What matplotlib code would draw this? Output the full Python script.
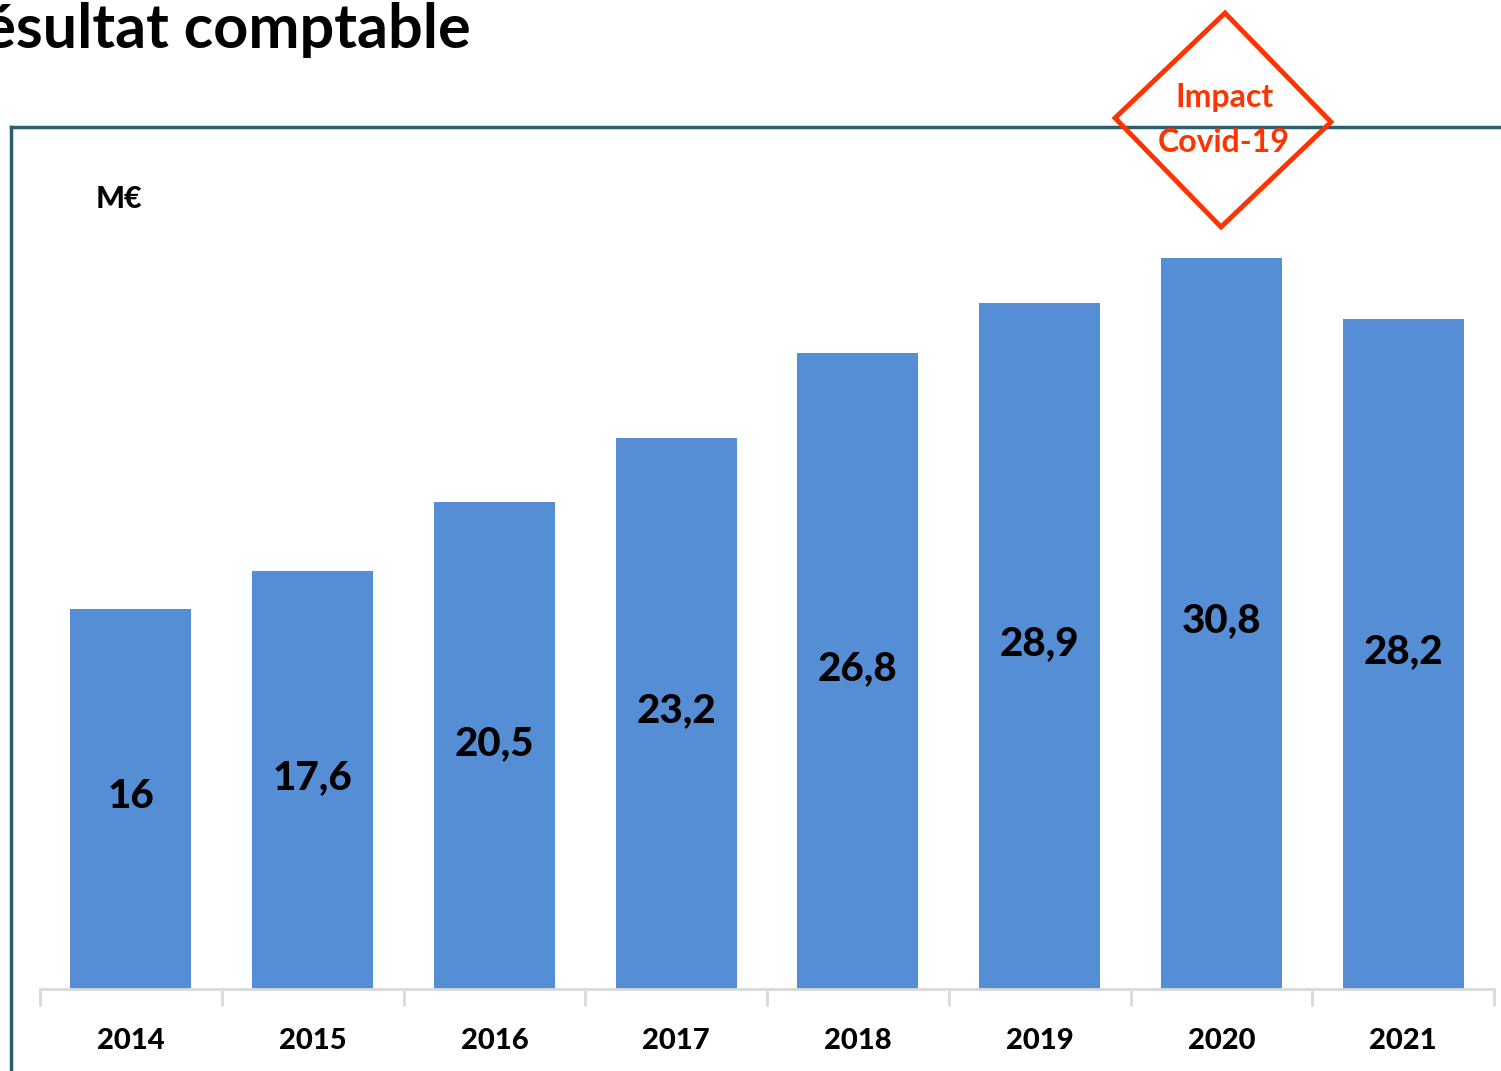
import matplotlib
matplotlib.use("Agg")
import matplotlib.pyplot as plt
from matplotlib.lines import Line2D
from matplotlib.patches import Polygon

years = ["2014", "2015", "2016", "2017", "2018", "2019", "2020", "2021"]
values = [16.0, 17.6, 20.5, 23.2, 26.8, 28.9, 30.8, 28.2]
value_labels = ["16", "17,6", "20,5", "23,2", "26,8", "28,9", "30,8", "28,2"]

W, H = 1501, 1071
fig = plt.figure(figsize=(W / 100, H / 100), dpi=100)
plt.rcParams['font.family'] = ['Lato', 'DejaVu Sans']

def fx(px):
    return px / W

def fy(py):
    return 1 - py / H

ymax = 35
ax = fig.add_axes([fx(40), fy(989), fx(1494) - fx(40), (ymax * 23.75) / H])
x = list(range(len(years)))
ax.bar(x, values, width=0.667, color="#558ED5", zorder=2)
ax.set_xlim(-0.5, len(years) - 0.5)
ax.set_ylim(0, ymax)
for s in ["top", "right", "left"]:
    ax.spines[s].set_visible(False)
ax.spines["bottom"].set_color("#D9D9D9")
ax.spines["bottom"].set_linewidth(2)
ax.set_yticks([])
ax.set_xticks([i - 0.5 for i in range(len(years) + 1)])
ax.set_xticklabels([])
ax.tick_params(axis="x", which="major", length=12, width=2, color="#D9D9D9", direction="out")
ax.set_xticks(x, minor=True)
ax.set_xticklabels(years, minor=True, fontsize=21, fontweight="black")
ax.tick_params(axis="x", which="minor", length=0, pad=28)
for xi, v, lab in zip(x, values, value_labels):
    ax.text(xi, v / 2 + 0.1, lab, ha="center", va="center", fontsize=29, fontweight="black", color="black")

# frame lines
fig.add_artist(Line2D([fx(11), fx(1501)], [fy(127), fy(127)], color="#2A5F70", lw=2.5))
fig.add_artist(Line2D([fx(11), fx(11)], [fy(127), fy(1071)], color="#2A5F70", lw=2.5))

# title
fig.text(fx(471), fy(30), "Résultat comptable", ha="right", va="center", fontsize=44, fontweight="bold")
fig.text(fx(96), fy(199), "M€", ha="left", va="center", fontsize=22, fontweight="black")

# Covid diamond
diamond = Polygon([(fx(1225), fy(13)), (fx(1331), fy(122)), (fx(1221), fy(227)), (fx(1115), fy(118))],
                  closed=True, fill=False, edgecolor="#FF3300", lw=3.5, transform=fig.transFigure, zorder=5)
fig.add_artist(diamond)
fig.text(fx(1224), fy(97), "Impact", ha="center", va="center", fontsize=23, fontweight="bold", color="#FF3300")
fig.text(fx(1224), fy(142), "Covid-19", ha="center", va="center", fontsize=23, fontweight="bold", color="#FF3300")

fig.savefig("out.png", dpi=100)
